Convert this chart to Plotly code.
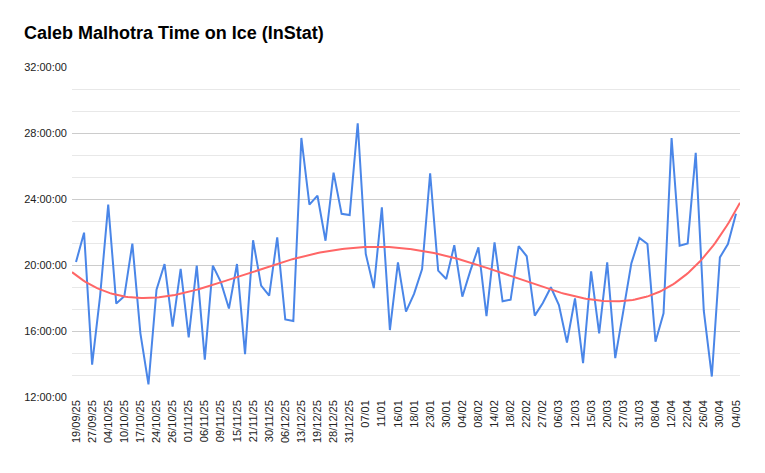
import numpy as np
import plotly.graph_objects as go

# labelled match dates (every second game carries a tick label)
date_labels = [
    "19/09/25", "27/09/25", "04/10/25", "10/10/25", "17/10/25", "24/10/25",
    "26/10/25", "01/11/25", "06/11/25", "09/11/25", "15/11/25", "21/11/25",
    "30/11/25", "06/12/25", "13/12/25", "19/12/25", "28/12/25", "31/12/25",
    "07/01", "11/01", "16/01", "18/01", "23/01", "30/01", "04/02", "08/02",
    "14/02", "18/02", "22/02", "27/02", "06/03", "12/03", "15/03", "20/03",
    "27/03", "31/03", "08/04", "12/04", "22/04", "26/04", "30/04", "04/05",
]

# time on ice per game, in minutes
toi_minutes = [
    20.18, 21.96, 13.96, 18.16, 23.66, 17.66, 18.10, 21.30, 15.86, 12.76,
    18.50, 20.06, 16.26, 19.76, 15.62, 19.96, 14.26, 19.96, 18.96, 17.36,
    20.06, 14.60, 21.50, 18.75, 18.14, 21.68, 16.70, 16.60, 27.70, 23.66,
    24.20, 21.47, 25.60, 23.10, 23.03, 28.59, 20.67, 18.60, 23.50, 16.06,
    20.16, 17.17, 18.25, 19.76, 25.56, 19.66, 19.15, 21.20, 18.08, 19.66,
    21.07, 16.90, 21.37, 17.80, 17.90, 21.15, 20.53, 16.93, 17.70, 18.65,
    17.57, 15.30, 17.98, 14.05, 19.62, 15.86, 20.16, 14.36, 17.20, 20.10,
    21.64, 21.27, 15.35, 17.07, 27.70, 21.17, 21.31, 26.80, 17.23, 13.24,
    20.46, 21.27, 23.10,
]

y_ticks = [12, 16, 20, 24, 28, 32]
y_tick_text = ["12:00:00", "16:00:00", "20:00:00", "24:00:00", "28:00:00", "32:00:00"]

game_idx = np.arange(len(toi_minutes))
tick_idx = game_idx[::2]

# polynomial trendline like the sheet's one
coef = np.polyfit(game_idx, toi_minutes, 4)
trend_x = np.linspace(-0.5, len(toi_minutes) - 0.5, 300)
trend_y = np.polyval(coef, trend_x)

fig = go.Figure()
fig.add_trace(go.Scatter(
    x=game_idx, y=toi_minutes, mode="lines",
    line=dict(color="#4a86e8", width=2),
    showlegend=False,
))
fig.add_trace(go.Scatter(
    x=trend_x, y=trend_y, mode="lines",
    line=dict(color="#ff6666", width=2),
    showlegend=False, hoverinfo="skip",
))

# the page body adds 8px, so margins are shifted by that much
fig.update_layout(
    width=765, height=473,
    paper_bgcolor="white", plot_bgcolor="white",
    margin=dict(l=64, r=33, t=59, b=84),
    font=dict(family="Liberation Sans, Arial, sans-serif", color="#222222"),
    title=dict(
        text="<b>Caleb Malhotra Time on Ice (InStat)</b>",
        x=0.021, xanchor="left", y=0.948, yanchor="middle",
        font=dict(size=18, color="#000000"),
    ),
)
fig.update_xaxes(
    range=[-0.5, len(toi_minutes) - 0.5],
    tickvals=tick_idx, ticktext=date_labels,
    tickangle=-90, tickfont=dict(size=11, color="#222222"),
    showgrid=False, zeroline=False, showline=False, ticks="",
    automargin=False,
)
fig.update_yaxes(
    range=[12, 32],
    tickvals=y_ticks, ticktext=y_tick_text,
    tickfont=dict(size=11, color="#222222"),
    ticklabelstandoff=4,
    showgrid=True, gridcolor="#cccccc", gridwidth=1,
    zeroline=False, showline=False, ticks="",
    automargin=False,
    minor=dict(tick0=12, dtick=4 / 3, showgrid=True, gridcolor="#e8e8e8", gridwidth=1),
)

fig.write_html("out.html")
